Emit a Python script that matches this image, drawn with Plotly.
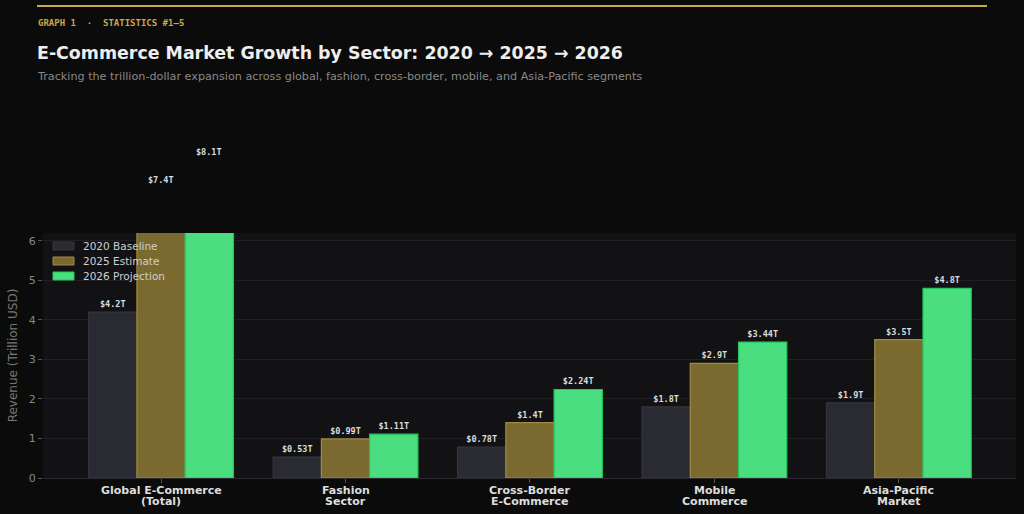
import plotly.graph_objects as go

categories = ["Global E-Commerce<br>(Total)", "Fashion<br>Sector", "Cross-Border<br>E-Commerce",
              "Mobile<br>Commerce", "Asia-Pacific<br>Market"]
series_names = ["2020 Baseline", "2025 Estimate", "2026 Projection"]
v2020 = [4.2, 0.53, 0.78, 1.8, 1.9]
v2025 = [7.4, 0.99, 1.4, 2.9, 3.5]
v2026 = [8.1, 1.11, 2.24, 3.44, 4.8]
labels2020 = ["$4.2T", "$0.53T", "$0.78T", "$1.8T", "$1.9T"]
labels2025 = ["$7.4T", "$0.99T", "$1.4T", "$2.9T", "$3.5T"]
labels2026 = ["$8.1T", "$1.11T", "$2.24T", "$3.44T", "$4.8T"]
y_max = 6.2

fills = ["#2a2a33", "#7a6a30", "#4ade80"]
borders = ["#34343e", "#a08a45", "#22c55e"]

W, H = 1024, 514
L, R, T, B = 43, 8, 233, 36
pw, ph = W - L - R, H - T - B
x_range = [-0.64, 4.635]
bargap = 0.215

def px(x):
    return (x - L) / pw

def py(y):
    return (H - B - y) / ph

bar_font = dict(family="DejaVu Sans Mono", size=8.5, color="#dddddd", weight="bold")

fig = go.Figure()
all_vals = [v2020, v2025, v2026]
all_labs = [labels2020, labels2025, labels2026]
for name, vals, labs, fc, bc in zip(series_names, all_vals, all_labs, fills, borders):
    fig.add_trace(go.Bar(
        name=name, x=categories, y=vals, text=labs, textposition="outside",
        textangle=0, cliponaxis=False, showlegend=False,
        textfont=bar_font,
        marker=dict(color=fc, line=dict(color=bc, width=1.2)),
    ))

# labels for bars that extend beyond the visible axis range
cat_px = pw / (x_range[1] - x_range[0])
bar_px = cat_px * (1 - bargap) / len(series_names)
for si, (vals, labs) in enumerate(zip(all_vals, all_labs)):
    offset = (si - (len(series_names) - 1) / 2) * bar_px
    for ci, (v, lab) in enumerate(zip(vals, labs)):
        if v > y_max:
            fig.add_annotation(xref="x", yref="paper", x=categories[ci], y=v / y_max,
                               xshift=offset, yshift=-1, yanchor="bottom", xanchor="center",
                               showarrow=False, text=lab, font=bar_font)

# category labels (two tight lines)
for c in categories:
    for li, line in enumerate(c.split("<br>")):
        fig.add_annotation(xref="x", yref="paper", x=c, y=0, yanchor="middle",
                           yshift=-12 - 11.5 * li, showarrow=False, text=line,
                           font=dict(family="DejaVu Sans", size=11, color="#dddddd", weight="bold"))

# legend
for i, (name, fc, bc) in enumerate(zip(series_names, fills, borders)):
    yc = 246 + 15 * i
    fig.add_shape(type="rect", xref="paper", yref="paper", x0=px(53), x1=px(74),
                  y0=py(yc - 4), y1=py(yc + 4), fillcolor=fc, line=dict(color=bc, width=1))
    fig.add_annotation(xref="paper", yref="paper", x=px(81), y=py(yc), xanchor="left",
                       yanchor="middle", showarrow=False, text=name,
                       font=dict(family="DejaVu Sans", size=10.5, color="#cfcfcf"))

fig.update_layout(
    width=W, height=H, barmode="group", bargap=bargap, bargroupgap=0,
    paper_bgcolor="#0b0b0b", plot_bgcolor="#121214",
    margin=dict(l=L, r=R, t=T, b=B, autoexpand=False),
    font=dict(family="DejaVu Sans", color="#cccccc"),
    showlegend=False,
    xaxis=dict(range=x_range, showgrid=False, ticks="outside", ticklen=4,
               tickcolor="#555555", showline=True, linecolor="#2a2a30",
               showticklabels=False, zeroline=False),
    yaxis=dict(range=[0, y_max], dtick=1, showgrid=True, gridcolor="#1f1f24", gridwidth=1,
               ticks="outside", ticklen=4, tickcolor="#555555",
               tickfont=dict(size=11, color="#888888"), zeroline=False,
               title=dict(text="Revenue (Trillion USD)", font=dict(size=12, color="#777777"), standoff=8)),
)

fig.add_shape(type="line", xref="paper", yref="paper", x0=px(37), x1=px(987), y0=py(6), y1=py(6),
              line=dict(color="#c9a84c", width=2))

fig.add_annotation(xref="paper", yref="paper", x=px(36), y=py(23), xanchor="left", yanchor="middle",
                   showarrow=False, text="GRAPH 1  ·  STATISTICS #1–5",
                   font=dict(family="DejaVu Sans Mono", size=9, color="#c9a84c", weight="bold"))
fig.add_annotation(xref="paper", yref="paper", x=px(35), y=py(53), xanchor="left", yanchor="middle",
                   showarrow=False, text="E-Commerce Market Growth by Sector: 2020 → 2025 → 2026",
                   font=dict(family="DejaVu Sans", size=17.4, color="#eeeeee", weight="bold"))
fig.add_annotation(xref="paper", yref="paper", x=px(35), y=py(76), xanchor="left", yanchor="middle",
                   showarrow=False,
                   text="Tracking the trillion-dollar expansion across global, fashion, cross-border, mobile, and Asia-Pacific segments",
                   font=dict(family="DejaVu Sans", size=11.2, color="#888888"))

fig.write_html("out.html")
